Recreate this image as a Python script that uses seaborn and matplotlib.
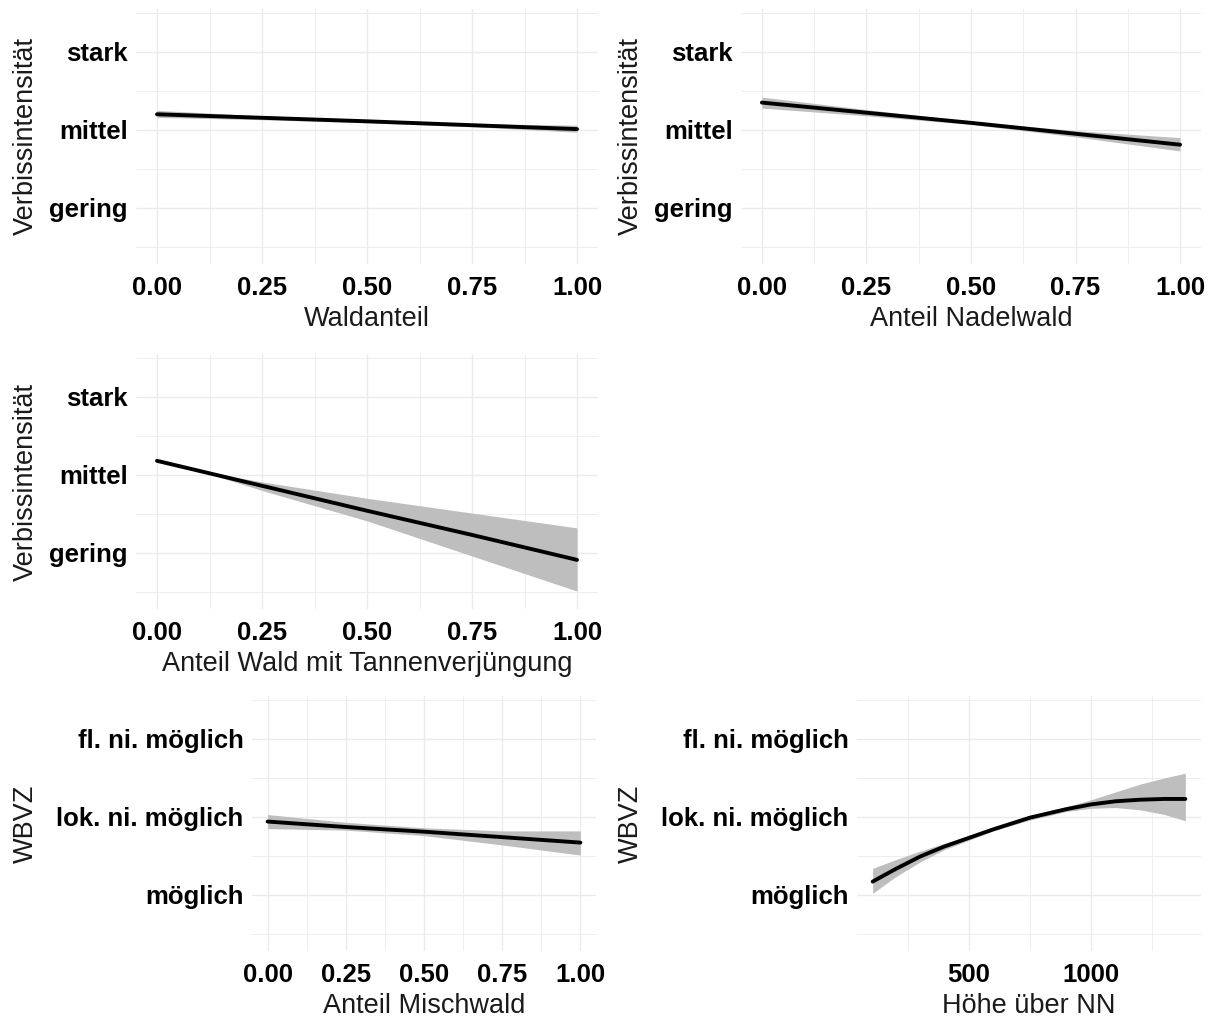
import matplotlib
matplotlib.use("Agg")
import matplotlib.pyplot as plt
import matplotlib.transforms as mtransforms
import seaborn as sns

# ordinal levels
verbiss_levels = ["gering", "mittel", "stark"]
wbvz_levels = ["möglich", "lok. ni. möglich", "fl. ni. möglich"]

# Verbissintensität ~ Waldanteil
wald_x = [0.0, 0.25, 0.5, 0.75, 1.0]
wald_fit = [2.20, 2.155, 2.11, 2.06, 2.01]
wald_lo = [2.16, 2.13, 2.09, 2.04, 1.97]
wald_hi = [2.25, 2.18, 2.13, 2.08, 2.06]

# Verbissintensität ~ Anteil Nadelwald
nadel_x = [0.0, 0.25, 0.5, 0.75, 1.0]
nadel_fit = [2.35, 2.22, 2.09, 1.95, 1.81]
nadel_lo = [2.28, 2.18, 2.07, 1.91, 1.73]
nadel_hi = [2.42, 2.26, 2.11, 1.99, 1.90]

# Verbissintensität ~ Anteil Wald mit Tannenverjüngung
tanne_x = [0.0, 0.125, 0.25, 0.5, 0.75, 1.0]
tanne_fit = [2.18, 2.02, 1.86, 1.54, 1.23, 0.91]
tanne_lo = [2.17, 2.01, 1.80, 1.41, 0.96, 0.51]
tanne_hi = [2.19, 2.03, 1.91, 1.70, 1.51, 1.32]

# WBVZ ~ Anteil Mischwald
misch_x = [0.0, 0.25, 0.5, 0.75, 1.0]
misch_fit = [1.94, 1.87, 1.81, 1.74, 1.67]
misch_lo = [1.85, 1.83, 1.76, 1.64, 1.51]
misch_hi = [2.03, 1.93, 1.86, 1.82, 1.82]

# WBVZ ~ Höhe über NN
hoehe_x = [107, 200, 300, 400, 500, 600, 750, 900, 1000, 1100, 1200, 1300, 1385]
hoehe_fit = [1.17, 1.33, 1.49, 1.62, 1.73, 1.84, 1.99, 2.10, 2.16, 2.20, 2.22, 2.23, 2.23]
hoehe_lo = [1.02, 1.23, 1.42, 1.58, 1.70, 1.82, 1.96, 2.07, 2.11, 2.12, 2.09, 2.03, 1.95]
hoehe_hi = [1.34, 1.45, 1.56, 1.66, 1.76, 1.86, 2.02, 2.13, 2.22, 2.32, 2.42, 2.50, 2.56]

sns.set_theme(style="white")
plt.rcParams['font.family'] = ['Liberation Sans', 'DejaVu Sans']

W, H = 1220, 1021
fig = plt.figure(figsize=(W / 100, H / 100), dpi=100)


def add_axes(left, top, right, bottom):
    return fig.add_axes([left / W, 1 - bottom / H, (right - left) / W, (bottom - top) / H])


def draw(ax, x, fit, lo, hi, levels, xlabel, ylabel, xlim, xticks, xlabels, xminor):
    ax.fill_between(x, lo, hi, color="#BEBEBE", linewidth=0)
    sns.lineplot(x=x, y=fit, ax=ax, color="black", linewidth=2.8)
    ax.set_xlim(*xlim)
    ax.set_ylim(0.28, 3.55)
    ax.set_yticks([1, 2, 3], levels)
    ax.set_yticks([0.5, 1.5, 2.5, 3.5], minor=True)
    ax.set_xticks(xticks, xlabels)
    ax.set_xticks(xminor, minor=True)
    ax.grid(which="major", color="#EBEBEB", linewidth=1.0)
    ax.grid(which="minor", color="#EBEBEB", linewidth=0.6)
    ax.set_axisbelow(True)
    for s in ax.spines.values():
        s.set_visible(False)
    ax.tick_params(which="both", length=0)
    ax.tick_params(axis="x", pad=8.5, labelsize=18.5)
    ax.tick_params(axis="y", pad=6, labelsize=18.5)
    for t in ax.get_xticklabels() + ax.get_yticklabels():
        t.set_fontweight("bold")
        t.set_color("black")
    ax.set_xlabel(xlabel, fontsize=19.5, color="#1a1a1a", labelpad=4.3)
    ax.set_ylabel(ylabel, fontsize=19.5, color="#1a1a1a")


frac_ticks = [0, 0.25, 0.5, 0.75, 1.0]
frac_labels = ["0.00", "0.25", "0.50", "0.75", "1.00"]
frac_minor = [0.125, 0.375, 0.625, 0.875]

ax1 = add_axes(136, 9, 598, 264)
draw(ax1, wald_x, wald_fit, wald_lo, wald_hi, verbiss_levels, "Waldanteil",
     "Verbissintensität", (-0.05, 1.05), frac_ticks, frac_labels, frac_minor)

ax2 = add_axes(741, 9, 1201, 264)
draw(ax2, nadel_x, nadel_fit, nadel_lo, nadel_hi, verbiss_levels, "Anteil Nadelwald",
     "Verbissintensität", (-0.05, 1.05), frac_ticks, frac_labels, frac_minor)

ax3 = add_axes(136, 354, 598, 609)
draw(ax3, tanne_x, tanne_fit, tanne_lo, tanne_hi, verbiss_levels,
     "Anteil Wald mit Tannenverjüngung", "Verbissintensität", (-0.05, 1.05),
     frac_ticks, frac_labels, frac_minor)

ax4 = add_axes(252, 696, 596, 951)
draw(ax4, misch_x, misch_fit, misch_lo, misch_hi, wbvz_levels, "Anteil Mischwald",
     "WBVZ", (-0.05, 1.05), frac_ticks, frac_labels, frac_minor)

ax5 = add_axes(857, 696, 1201, 951)
draw(ax5, hoehe_x, hoehe_fit, hoehe_lo, hoehe_hi, wbvz_levels, "Höhe über NN",
     "WBVZ", (43, 1449), [500, 1000], ["500", "1000"], [250, 750, 1250])

# y titles sit at the figure edge of each column
for ax, xpx in [(ax1, 39), (ax3, 39), (ax4, 39), (ax2, 644), (ax5, 644)]:
    tr = mtransforms.blended_transform_factory(fig.transFigure, ax.transAxes)
    ax.yaxis.set_label_coords(xpx / W, 0.5, transform=tr)

fig.savefig("out.png", dpi=100)
